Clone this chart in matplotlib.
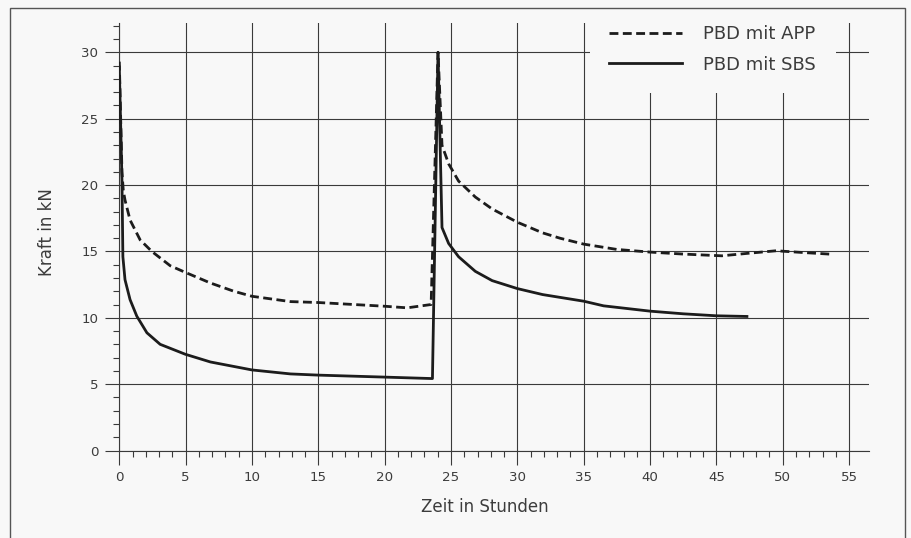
"""
Kraft-Zeit-Verlauf PBD mit APP / SBS.
"""

import matplotlib

matplotlib.use("Agg")
import matplotlib.pyplot as plt
import numpy as np
from matplotlib.ticker import FixedLocator, MultipleLocator

# Zeit in Stunden / Kraft in kN
app_t = [0, 0.2, 0.3, 0.43, 0.81, 1.57, 2.45, 3.84, 4.98, 6.87, 8.63, 10.0,
         12.9, 15.0, 20.0, 21.7, 23.5, 24.02, 24.32, 24.82, 25.57, 26.83,
         28.1, 30.0, 31.9, 33.2, 35.0, 37.5, 40.0, 42.5, 45.4, 47.5, 49.5,
         51.5, 53.5]
app_y = [29.3, 21.0, 19.6, 18.87, 17.37, 15.87, 15.0, 13.92, 13.42, 12.62,
         12.0, 11.62, 11.22, 11.15, 10.87, 10.75, 11.0, 30.0, 23.0, 21.6,
         20.3, 19.1, 18.2, 17.2, 16.4, 16.0, 15.55, 15.15, 14.95, 14.8,
         14.67, 14.87, 15.05, 14.92, 14.8]

sbs_t = [0, 0.2, 0.27, 0.43, 0.81, 1.32, 2.08, 3.08, 4.98, 6.87, 10.0, 12.9,
         15.0, 20.0, 23.6, 24.02, 24.32, 24.82, 25.57, 26.83, 28.1, 30.0,
         31.9, 35.0, 36.5, 40.0, 42.5, 45.0, 47.3]
sbs_y = [28.9, 20.4, 14.6, 12.87, 11.37, 10.12, 8.87, 8.0, 7.25, 6.67, 6.07,
         5.77, 5.68, 5.53, 5.42, 30.0, 16.8, 15.6, 14.6, 13.5, 12.8, 12.2,
         11.75, 11.25, 10.9, 10.5, 10.3, 10.15, 10.1]

labels = ["PBD mit APP", "PBD mit SBS"]

FONT = "DejaVu Sans"
GRID = "#3a3a3a"
INK = "#1c1c1c"
TEXT = "#3c3c3c"
BG = "#f8f8f8"

fig = plt.figure(figsize=(9.12, 5.38), dpi=100, facecolor=BG)
ax = fig.add_axes([119.3 / 912, 87.5 / 538, 749.7 / 912, 428 / 538])
ax.set_facecolor(BG)

ax.plot(app_t, app_y, color=INK, linewidth=2.0, linestyle=(0, (3.2, 1.6)),
        label=labels[0], zorder=3, solid_joinstyle="round")
ax.plot(sbs_t, sbs_y, color=INK, linewidth=2.0, label=labels[1], zorder=3,
        solid_joinstyle="round")

ax.set_xlim(0, 56.5)
ax.set_ylim(0, 32.25)

ax.xaxis.set_major_locator(MultipleLocator(5))
ax.xaxis.set_minor_locator(FixedLocator(np.arange(0, 56)))
ax.yaxis.set_major_locator(MultipleLocator(5))
ax.yaxis.set_minor_locator(MultipleLocator(1))

ax.grid(True, which="major", color=GRID, linewidth=0.8)
ax.set_axisbelow(True)

for side in ["top", "right"]:
    ax.spines[side].set_visible(False)
for side in ["left", "bottom"]:
    ax.spines[side].set_color(GRID)
    ax.spines[side].set_linewidth(0.8)

ax.tick_params(which="major", direction="out", length=10, width=0.8,
               color=GRID, labelsize=9.6, labelcolor=TEXT, pad=5)
ax.tick_params(which="minor", direction="out", length=4.5, width=0.8,
               color=GRID)
for lbl in ax.get_xticklabels() + ax.get_yticklabels():
    lbl.set_family(FONT)

ax.set_xlabel("Zeit in Stunden", fontsize=12, family=FONT, color=TEXT)
ax.xaxis.set_label_coords(0.488, -0.112)
ax.set_ylabel("Kraft in kN", fontsize=12, family=FONT, color=TEXT)
ax.yaxis.set_label_coords(-0.085, 0.51)

leg = ax.legend(loc="upper right", bbox_to_anchor=(836 / 912, 1 - 5 / 538),
                bbox_transform=fig.transFigure, borderaxespad=0,
                frameon=True, facecolor=BG, edgecolor="none", framealpha=1,
                handlelength=4.0, handletextpad=1.2, labelspacing=0.7,
                borderpad=1.1, fancybox=False,
                prop={"family": FONT, "size": 13})
for txt in leg.get_texts():
    txt.set_color(TEXT)
leg.set_zorder(5)

# Rahmen um die ganze Abbildung
frame = plt.Rectangle((10 / 912, -0.05), 895 / 912, 1.05 - 8 / 538,
                      transform=fig.transFigure, fill=False,
                      edgecolor="#555555", linewidth=1.0)
fig.add_artist(frame)

fig.savefig("out.png", dpi=100, facecolor=BG)
